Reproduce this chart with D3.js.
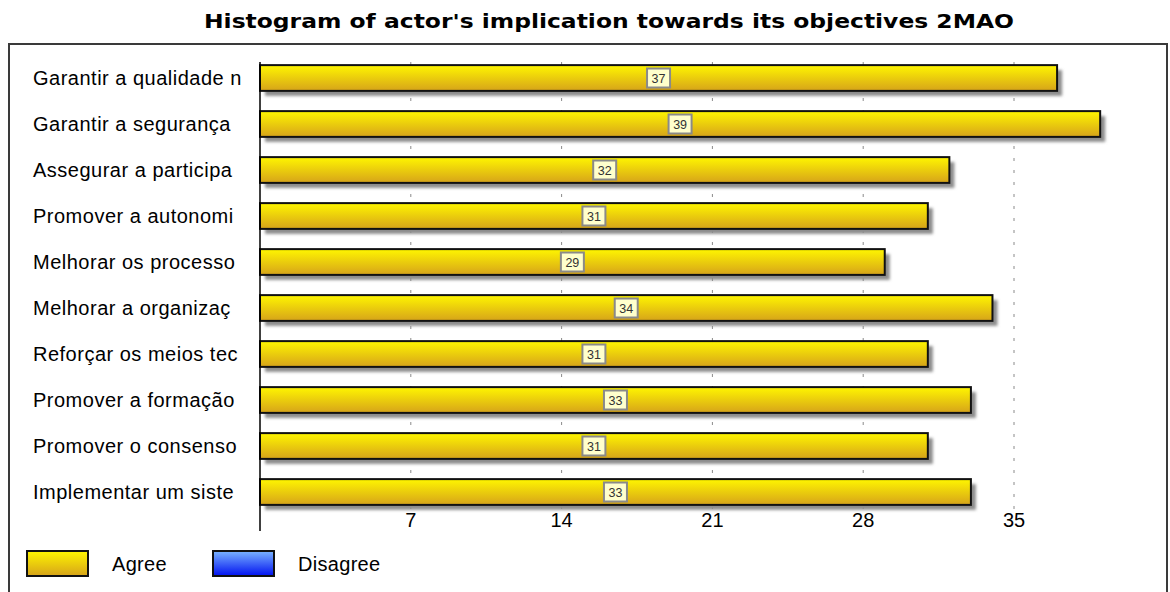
<!DOCTYPE html>
<html>
<head>
<meta charset="utf-8">
<script src="https://cdn.jsdelivr.net/npm/d3@7"></script>
<style>
  html, body { margin: 0; padding: 0; background: #fff; }
  svg { display: block; }
</style>
</head>
<body>
<script>
// Objectives (labels truncated as in the source software)
const categories = [
  "Garantir a qualidade n",
  "Garantir a segurança",
  "Assegurar a participa",
  "Promover a autonomi",
  "Melhorar os processo",
  "Melhorar a organizaç",
  "Reforçar os meios tec",
  "Promover a formação",
  "Promover o consenso",
  "Implementar um siste"
];
const agreeValues = [37, 39, 32, 31, 29, 34, 31, 33, 31, 33];
const disagreeValues = [0, 0, 0, 0, 0, 0, 0, 0, 0, 0];
const tickValues = [7, 14, 21, 28, 35];
const legendLabels = ["Agree", "Disagree"];
const titleText = "Histogram of actor's implication towards its objectives 2MAO";

const W = 1170, H = 592;
const FONT = "Liberation Sans, Arial, sans-serif";
const svg = d3.select("body").append("svg").attr("width", W).attr("height", H);
const defs = svg.append("defs");

const gradY = defs.append("linearGradient").attr("id", "gAgree")
  .attr("x1", 0).attr("y1", 0).attr("x2", 0).attr("y2", 1);
gradY.append("stop").attr("offset", "0%").attr("stop-color", "#fff600");
gradY.append("stop").attr("offset", "100%").attr("stop-color", "#d6a31a");

const gradB = defs.append("linearGradient").attr("id", "gDisagree")
  .attr("x1", 0).attr("y1", 0).attr("x2", 0).attr("y2", 1);
gradB.append("stop").attr("offset", "0%").attr("stop-color", "#7ab4ff");
gradB.append("stop").attr("offset", "100%").attr("stop-color", "#0010f0");

const blur = defs.append("filter").attr("id", "soft")
  .attr("x", "-10%").attr("y", "-50%").attr("width", "120%").attr("height", "200%");
blur.append("feGaussianBlur").attr("stdDeviation", 1.4);

// Outer frame
svg.append("rect").attr("x", 9).attr("y", 44).attr("width", 1158).attr("height", 570)
  .attr("fill", "none").attr("stroke", "#3a3a3a").attr("stroke-width", 2);

// Title
svg.append("text").attr("x", 609).attr("y", 28)
  .attr("text-anchor", "middle")
  .attr("font-family", "DejaVu Sans, sans-serif").attr("font-weight", "bold")
  .attr("font-size", 20).attr("textLength", 810).attr("lengthAdjust", "spacingAndGlyphs")
  .attr("fill", "#000").text(titleText);

// Scales
const x = d3.scaleLinear().domain([0, 35]).range([260, 1014]);
const y = d3.scaleBand().domain(categories).range([55, 515]).paddingInner(0.44).paddingOuter(0.22);

// Dashed grid lines
svg.append("g").selectAll("line").data(tickValues).join("line")
  .attr("x1", d => x(d)).attr("x2", d => x(d))
  .attr("y1", 62).attr("y2", 512)
  .attr("stroke", "#8a8a8a").attr("stroke-width", 1)
  .attr("stroke-dasharray", "3,9");

// Bar shadows
svg.append("g").selectAll("rect").data(agreeValues).join("rect")
  .attr("x", x(0) + 5).attr("y", (d, i) => y(categories[i]) + 5)
  .attr("width", d => x(d) - x(0)).attr("height", y.bandwidth())
  .attr("fill", "#8c8c8c").attr("filter", "url(#soft)");

// Bars
svg.append("g").selectAll("rect").data(agreeValues).join("rect")
  .attr("x", x(0)).attr("y", (d, i) => y(categories[i]))
  .attr("width", d => x(d) - x(0)).attr("height", y.bandwidth())
  .attr("fill", "url(#gAgree)").attr("stroke", "#111").attr("stroke-width", 2);

// Value labels in the middle of each bar
const lab = svg.append("g").selectAll("g").data(agreeValues).join("g")
  .attr("transform", (d, i) => `translate(${x(d / 2)},${y(categories[i]) + y.bandwidth() / 2})`);
lab.append("rect").attr("x", -11.5).attr("y", -9.5).attr("width", 23).attr("height", 19)
  .attr("fill", "#ffffcc").attr("stroke", "#8a8a8a").attr("stroke-width", 2);
lab.append("text").attr("text-anchor", "middle").attr("y", 4.5)
  .attr("font-family", FONT).attr("font-size", 12.5)
  .attr("fill", "#333").text(d => d);

// Y axis line
svg.append("line").attr("x1", x(0)).attr("x2", x(0)).attr("y1", 62).attr("y2", 531)
  .attr("stroke", "#000").attr("stroke-width", 1.5);

// Category labels
svg.append("g").selectAll("text").data(categories).join("text")
  .attr("x", 33).attr("y", d => y(d) + y.bandwidth() / 2 + 7)
  .attr("font-family", FONT).attr("font-size", 20).attr("letter-spacing", 0.5)
  .attr("fill", "#000").text(d => d);

// X tick labels
svg.append("g").selectAll("text").data(tickValues).join("text")
  .attr("x", d => x(d)).attr("y", 527)
  .attr("text-anchor", "middle")
  .attr("font-family", FONT).attr("font-size", 20)
  .attr("fill", "#000").text(d => d);

// Legend
const legend = svg.append("g").selectAll("g").data(legendLabels).join("g")
  .attr("transform", (d, i) => `translate(${27 + i * 186},551)`);
legend.append("rect").attr("width", 61).attr("height", 25)
  .attr("fill", (d, i) => i === 0 ? "url(#gAgree)" : "url(#gDisagree)")
  .attr("stroke", "#111").attr("stroke-width", 2);
legend.append("text").attr("x", 85).attr("y", 20)
  .attr("font-family", FONT).attr("font-size", 20).attr("letter-spacing", 0.3)
  .attr("fill", "#000").text(d => d);
</script>
</body>
</html>
